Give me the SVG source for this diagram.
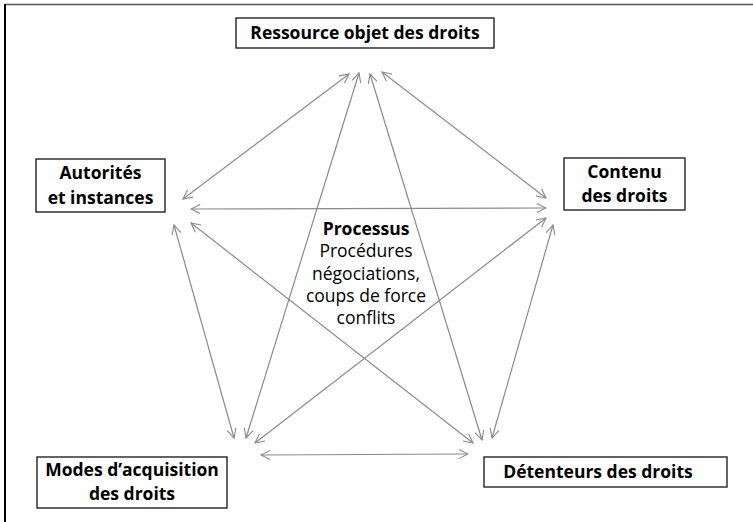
<svg xmlns="http://www.w3.org/2000/svg" width="753" height="522" viewBox="0 0 753 522">
<defs>
<style>
.box{fill:#fff;stroke:#111;stroke-width:1.3}
.lbl{font-family:"Open Sans","Noto Sans",sans-serif;font-weight:bold;font-size:17.5px;fill:#000;text-anchor:middle}
.reg{font-family:"Open Sans","Noto Sans",sans-serif;font-size:17.5px;fill:#000;text-anchor:middle}
.con{stroke:#8a8a8a;stroke-width:1.2;fill:none;marker-start:url(#ah);marker-end:url(#ah)}
</style>
<marker id="ah" viewBox="0 0 12 12" refX="11" refY="6" markerWidth="11" markerHeight="11" markerUnits="userSpaceOnUse" orient="auto-start-reverse">
<path d="M1,1 L11,6 L1,11" fill="none" stroke="#8a8a8a" stroke-width="1.2"/>
</marker>
</defs>
<rect width="753" height="522" fill="#fff"/>
<g id="frame">
<line x1="5" y1="4.5" x2="753" y2="4.5" stroke="#555" stroke-width="1.5"/>
<line x1="5" y1="4" x2="5" y2="522" stroke="#000" stroke-width="2"/>
</g>
<g id="connectors">
<line class="con" x1="183" y1="199" x2="349" y2="74"/>
<line class="con" x1="546" y1="198" x2="382" y2="72"/>
<line class="con" x1="191" y1="209" x2="546" y2="208"/>
<line class="con" x1="174" y1="225" x2="234" y2="438"/>
<line class="con" x1="191" y1="223" x2="473" y2="443"/>
<line class="con" x1="359" y1="73" x2="246" y2="438"/>
<line class="con" x1="370" y1="74" x2="482" y2="440"/>
<line class="con" x1="546" y1="218" x2="255" y2="443"/>
<line class="con" x1="553" y1="225" x2="492" y2="438"/>
<line class="con" x1="261" y1="455" x2="468" y2="454"/>
</g>
<g id="ressource">
<rect class="box" x="236" y="18" width="258" height="30"/>
<text class="lbl" x="365" y="39">Ressource objet des droits</text>
</g>
<g id="autorites">
<rect class="box" x="36" y="159" width="129" height="53"/>
<text class="lbl" x="100.5" y="179">Autorités</text>
<text class="lbl" x="100.5" y="204">et instances</text>
</g>
<g id="contenu">
<rect class="box" x="564" y="158" width="121" height="52"/>
<text class="lbl" x="624.5" y="178">Contenu</text>
<text class="lbl" x="624.5" y="202">des droits</text>
</g>
<g id="modes">
<rect class="box" x="37" y="457" width="190" height="51"/>
<text class="lbl" x="132" y="476">Modes d’acquisition</text>
<text class="lbl" x="132" y="500">des droits</text>
</g>
<g id="detenteurs">
<rect class="box" x="484" y="457" width="243" height="30"/>
<text class="lbl" x="598" y="478">Détenteurs des droits</text>
</g>
<g id="processus">
<text class="lbl" x="366" y="235">Processus</text>
<text class="reg" x="366" y="257">Procédures</text>
<text class="reg" x="366" y="280">négociations,</text>
<text class="reg" x="366" y="302">coups de force</text>
<text class="reg" x="366" y="324">conflits</text>
</g>
</svg>
